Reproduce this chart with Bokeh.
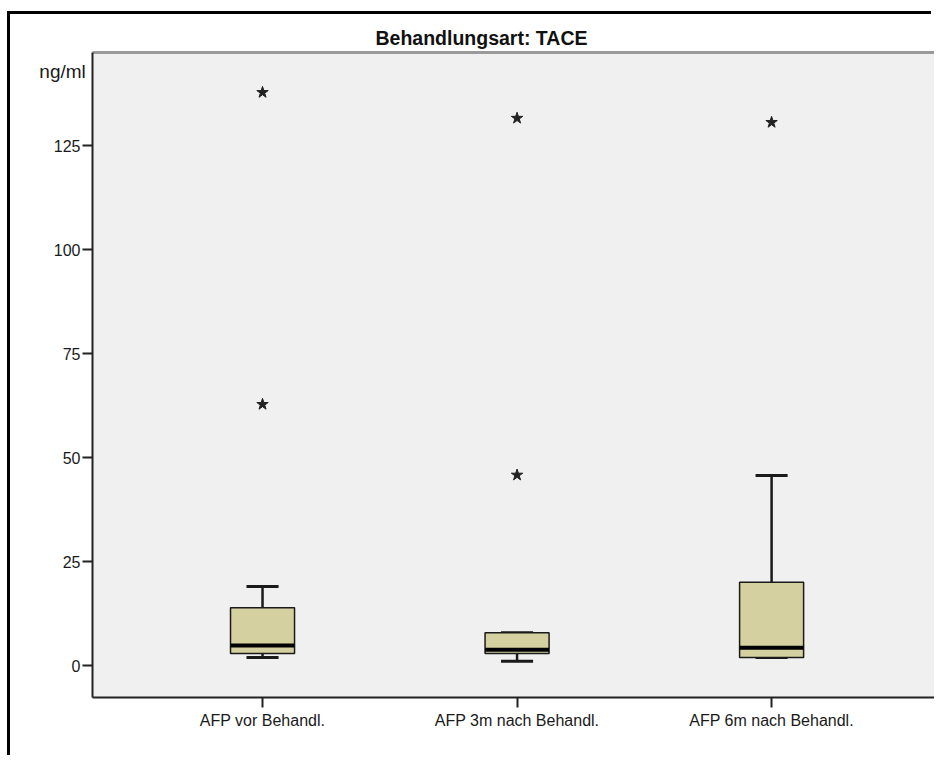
from bokeh.plotting import figure
from bokeh.models import Range1d, FixedTicker, LinearAxis
from bokeh.embed import file_html
from bokeh.resources import INLINE

# ---- data ----
categories = ["AFP vor Behandl.", "AFP 3m nach Behandl.", "AFP 6m nach Behandl."]
whisker_low = [1.9, 1.0, 1.9]
q1 = [2.9, 2.9, 1.9]
median = [4.8, 3.8, 4.3]
q3 = [13.9, 7.9, 20.0]
whisker_high = [19.0, 7.9, 45.7]
outlier_group = [1, 1, 2, 2, 3]
outlier_value = [62.8, 137.8, 45.8, 131.6, 130.6]
y_ticks = [0, 25, 50, 75, 100, 125]
title_text = "Behandlungsart: TACE"
unit_text = "ng/ml"

FONT = "Liberation Sans"
xpos = [i + 1 for i in range(len(categories))]
box_w = 0.2515
cap_w = 0.126
X0, X1 = 0.332, 3.640
Y0, Y1 = -7.69, 147.4

p = figure(width=924, height=744, output_backend="svg", toolbar_location=None,
           x_range=Range1d(X0, X1), y_range=Range1d(Y0, Y1),
           min_border_left=82, min_border_right=0, min_border_top=38, min_border_bottom=61)
# outer black chart frame (left and top edges; the rest lies outside the picture)
p.styles = {"box-shadow": "-3px -3px 0 0 black", "margin-top": "14px", "margin-left": "10px"}
p.outline_line_color = None
p.background_fill_color = "#f0f0f0"
p.border_fill_color = "white"
p.grid.visible = False

p.title.text = title_text
p.title.align = "left"
p.title.offset = 283
p.title.standoff = 7
p.title.text_font = FONT
p.title.text_font_size = "19.5px"
p.title.text_font_style = "bold"
p.title.text_color = "#111111"

xa = p.xaxis[0]
xa.ticker = FixedTicker(ticks=xpos)
xa.major_label_overrides = {x: c for x, c in zip(xpos, categories)}
ya = p.yaxis[0]
ya.ticker = FixedTicker(ticks=y_ticks)
for ax in (xa, ya):
    ax.major_tick_out = 10
    ax.major_tick_in = 0
    ax.minor_tick_line_color = None
    ax.major_tick_line_color = "#222222"
    ax.major_tick_line_width = 2
    ax.axis_line_color = "#222222"
    ax.axis_line_width = 2
    ax.major_label_text_font = FONT
    ax.major_label_text_font_size = "16px"
    ax.major_label_text_color = "#1a1a1a"
ya.major_label_standoff = 2
xa.major_label_standoff = 4

# unit label at the upper end of the value axis (second line sits just below the frame top)
ya.axis_label = "\n" + unit_text
ya.axis_label_orientation = "horizontal"
ya.axis_label_align = "end"
ya.axis_label_standoff = -35
ya.axis_label_text_font = FONT
ya.axis_label_text_font_size = "19px"
ya.axis_label_text_line_height = 1.79
ya.axis_label_text_font_style = "normal"
ya.axis_label_text_color = "#1a1a1a"

top = LinearAxis(ticker=FixedTicker(ticks=[]), axis_line_color="#9a9a9a", axis_line_width=3,
                 major_tick_line_color=None, minor_tick_line_color=None,
                 major_tick_out=0, major_tick_in=0, minor_tick_out=0, minor_tick_in=0,
                 major_label_standoff=0, major_label_text_font_size="0px")
p.add_layout(top, "above")

# whiskers
p.segment(x0=xpos, y0=q3, x1=xpos, y1=whisker_high, line_color="#1a1a1a", line_width=2.5)
p.segment(x0=xpos, y0=q1, x1=xpos, y1=whisker_low, line_color="#1a1a1a", line_width=2.5)
p.segment(x0=[x - cap_w / 2 for x in xpos], y0=whisker_high, x1=[x + cap_w / 2 for x in xpos], y1=whisker_high,
          line_color="#1a1a1a", line_width=3)
p.segment(x0=[x - cap_w / 2 for x in xpos], y0=whisker_low, x1=[x + cap_w / 2 for x in xpos], y1=whisker_low,
          line_color="#1a1a1a", line_width=3)
# boxes
p.vbar(x=xpos, width=box_w, bottom=q1, top=q3, fill_color="#d5d0a0", line_color="#1a1a1a", line_width=1.5)
# medians
p.segment(x0=[x - box_w / 2 for x in xpos], y0=median, x1=[x + box_w / 2 for x in xpos], y1=median,
          line_color="black", line_width=4)
# extremes
p.scatter(x=outlier_group, y=outlier_value, marker="star", size=12, fill_color="#222222", line_color="#222222")

open("out.html", "w").write(file_html(p, INLINE))
